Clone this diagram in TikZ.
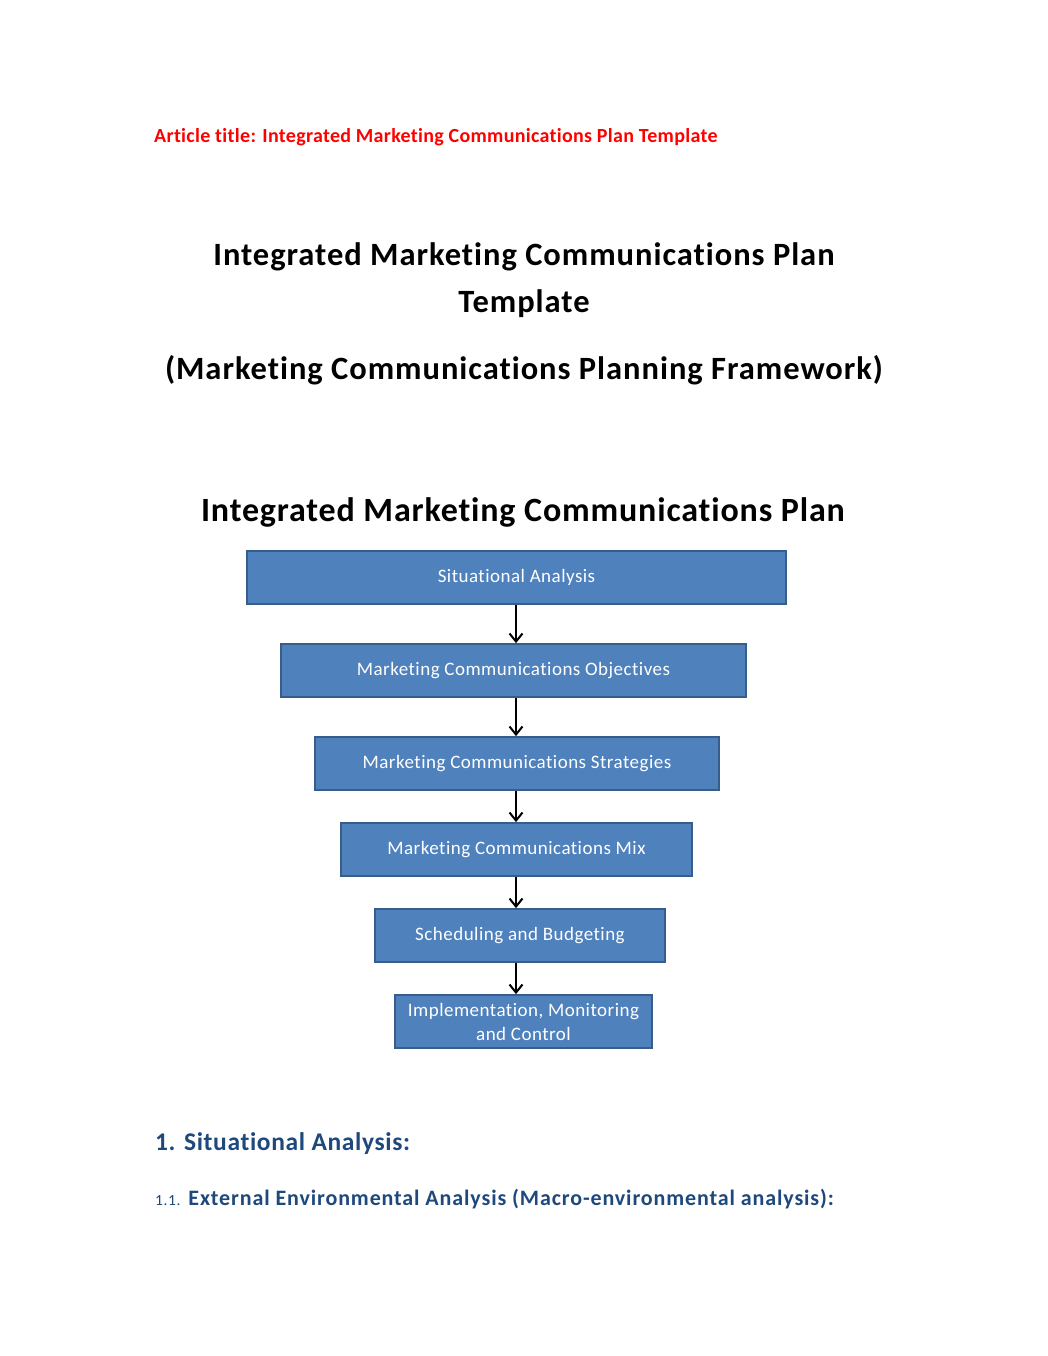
\documentclass[tikz,border=0pt]{standalone}
\usepackage{fontspec}
\setmainfont{Carlito}[Ligatures=NoCommon]
\newfontfamily\artfont{Carlito}[Ligatures=NoCommon, LetterSpace=1.5]
\newfontfamily\titlefont{Carlito}[Ligatures=NoCommon, LetterSpace=3]
\newfontfamily\dtfont{Carlito}[Ligatures=NoCommon, LetterSpace=2.5]
\newfontfamily\boxfont{Carlito}[Ligatures=NoCommon, LetterSpace=2.5]
\newfontfamily\hafont{Carlito}[Ligatures=NoCommon, LetterSpace=2.5]
\newfontfamily\hbfont{Carlito}[Ligatures=NoCommon, LetterSpace=4]
\usetikzlibrary{arrows.meta}
\definecolor{boxfill}{HTML}{4F81BD}
\definecolor{boxline}{HTML}{385D8A}
\definecolor{headblue}{HTML}{1F497D}
\definecolor{artred}{HTML}{FF0000}
\tikzset{
  stepbox/.style={draw=boxline, line width=1.8pt, fill=boxfill, text=white, inner sep=0pt, align=center,
    font=\boxfont\fontsize{19}{24}\selectfont},
  flowarrow/.style={-{Straight Barb[length=8pt,width=13pt,line width=2pt]}, line width=2pt, black},
}
\begin{document}
\begin{tikzpicture}[x=1pt,y=-1pt]
\useasboundingbox (0,0) rectangle (1048,1356);
\fill[white] (0,0) rectangle (1048,1356);
\node[anchor=west, text=artred, inner xsep=0pt, font=\artfont\bfseries\fontsize{20}{24}\selectfont] (art) at (154,137) {Article title: Integrated Marketing Communications Plan Template};
\node[font=\titlefont\bfseries\fontsize{32.5}{38}\selectfont] (t1) at (524,257) {Integrated Marketing Communications Plan};
\node[font=\titlefont\bfseries\fontsize{32.5}{38}\selectfont] (t2) at (524,304) {Template};
\node[font=\titlefont\bfseries\fontsize{32.5}{38}\selectfont] (t3) at (524,370) {(Marketing Communications Planning Framework)};
\node[font=\dtfont\bfseries\fontsize{34}{40}\selectfont] (dt) at (523,512) {Integrated Marketing Communications Plan};

\node[stepbox, minimum width=539pt, minimum height=53pt] (b1) at (516.5,577.5) {Situational Analysis};
\node[stepbox, minimum width=465pt, minimum height=53pt] (b2) at (513.5,670.5) {Marketing Communications Objectives};
\node[stepbox, minimum width=404pt, minimum height=53pt] (b3) at (517,763.5) {Marketing Communications Strategies};
\node[stepbox, minimum width=351pt, minimum height=53pt] (b4) at (516.5,849.5) {Marketing Communications Mix};
\node[stepbox, minimum width=290pt, minimum height=53pt] (b5) at (520,935.5) {Scheduling and Budgeting};
\node[stepbox, minimum width=257pt, minimum height=53pt] (b6) at (523.5,1021.5) {Implementation, Monitoring\\and Control};

\coordinate (ax) at (516,0);
\draw[flowarrow] (b1.south -| ax) -- (b2.north -| ax);
\draw[flowarrow] (b2.south -| ax) -- (b3.north -| ax);
\draw[flowarrow] (b3.south -| ax) -- (b4.north -| ax);
\draw[flowarrow] (b4.south -| ax) -- (b5.north -| ax);
\draw[flowarrow] (b5.south -| ax) -- (b6.north -| ax);

\node[anchor=west, inner xsep=0pt, text=headblue, font=\hafont\bfseries\fontsize{25.5}{30}\selectfont] (h1) at (155,1144) {1. Situational Analysis:};
\node[anchor=base west, inner xsep=0pt, text=headblue, font=\hbfont\bfseries\fontsize{22}{26}\selectfont] (h2) at (155,1205) {{\fontsize{15.5}{18}\selectfont\mdseries 1.1.} External Environmental Analysis (Macro-environmental analysis):};
\end{tikzpicture}
\end{document}
